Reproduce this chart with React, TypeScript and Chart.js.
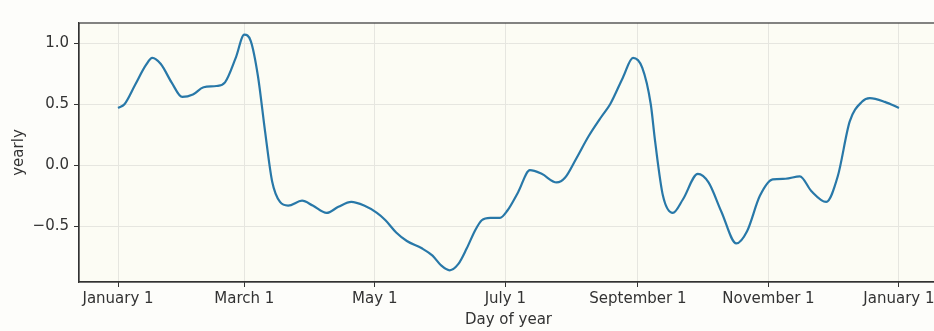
import React, { useEffect, useRef } from "react";
import { Chart, registerables } from "chart.js";

Chart.register(...registerables);

// Day of year (0..365) and yearly seasonality component
const days = [
  0, 3, 8, 13, 16, 20, 25, 30, 35, 40, 46, 50, 55, 59, 62, 65.4, 68.7, 72, 75.7, 79.5, 86,
  91, 97.5, 103, 109, 115, 121, 125, 130, 135, 142, 147, 151, 155, 159, 163, 167, 170, 174,
  178.5, 182, 187, 192.5, 198, 205, 209, 214, 220, 226, 230, 236, 240.7, 245, 249, 251, 254.7,
  259.3, 264, 271, 276, 282, 289, 294, 300, 306, 312, 318.7, 324, 331, 336.4, 342, 347.7,
  351.4, 358.4, 365,
];
const yearly = [
  0.47, 0.5, 0.66, 0.82, 0.88, 0.83, 0.68, 0.56, 0.58, 0.64, 0.65, 0.68, 0.88, 1.07, 1.02,
  0.73, 0.28, -0.13, -0.3, -0.33, -0.29, -0.33, -0.39, -0.34, -0.3, -0.33, -0.39, -0.45,
  -0.55, -0.62, -0.68, -0.74, -0.82, -0.86, -0.81, -0.68, -0.53, -0.45, -0.43, -0.43, -0.37,
  -0.22, -0.04, -0.07, -0.14, -0.1, 0.05, 0.24, 0.4, 0.5, 0.72, 0.88, 0.8, 0.5, 0.2, -0.25,
  -0.39, -0.28, -0.07, -0.14, -0.38, -0.64, -0.54, -0.25, -0.115, -0.11, -0.09, -0.21, -0.3,
  -0.09, 0.36, 0.52, 0.55, 0.52, 0.47,
];
const xTickDays = [0, 59, 120, 181, 243, 304, 365];
const xTickLabels = ["January 1", "March 1", "May 1", "July 1", "September 1", "November 1", "January 1"];
const yTicks = [-0.5, 0.0, 0.5, 1.0];

const FONT = "'DejaVu Sans', sans-serif";

const bgPlugin = {
  id: "bgPlugin",
  beforeDraw(chart: any) {
    const { ctx, chartArea } = chart;
    ctx.save();
    ctx.fillStyle = "#fdfdfa";
    ctx.fillRect(0, 0, chart.width, chart.height);
    ctx.fillStyle = "#fcfcf4";
    ctx.fillRect(chartArea.left, chartArea.top, chartArea.right - chartArea.left, chartArea.bottom - chartArea.top);
    ctx.restore();
  },
  afterDraw(chart: any) {
    const { ctx, chartArea } = chart;
    ctx.save();
    ctx.strokeStyle = "#333333";
    ctx.lineWidth = 1.2;
    ctx.strokeRect(chartArea.left, chartArea.top, chartArea.right - chartArea.left, chartArea.bottom - chartArea.top);
    ctx.restore();
  },
};

export default function App() {
  const ref = useRef<HTMLCanvasElement>(null);
  useEffect(() => {
    if (!ref.current) return;
    const chart = new Chart(ref.current, {
      type: "line",
      data: {
        datasets: [
          {
            data: days.map((d, i) => ({ x: d, y: yearly[i] })),
            borderColor: "#2878a8",
            borderWidth: 2.2,
            pointRadius: 0,
            cubicInterpolationMode: "monotone",
            fill: false,
          },
        ],
      },
      options: {
        animation: false,
        responsive: false,
        maintainAspectRatio: false,
        layout: { padding: { top: 23, right: 12, bottom: 0, left: 0 } },
        plugins: { legend: { display: false }, tooltip: { enabled: false } },
        scales: {
          x: {
            type: "linear",
            min: -18.25,
            max: 383.25,
            afterBuildTicks: (scale: any) => {
              scale.ticks = xTickDays.map((v) => ({ value: v }));
            },
            afterFit: (scale: any) => {
              scale.height = 49;
            },
            ticks: {
              autoSkip: false,
              maxRotation: 0,
              color: "#333333",
              font: { family: FONT, size: 15 },
              padding: 3,
              callback: (v: any) => {
                const i = xTickDays.indexOf(Number(v));
                return i >= 0 ? xTickLabels[i] : "";
              },
            },
            grid: {
              color: "#e6e6e0",
              lineWidth: 1,
              drawTicks: true,
              tickLength: 5,
              tickColor: "#333333",
            },
            border: { display: true, color: "#333333", width: 1.2 },
            title: {
              display: true,
              text: "Day of year",
              color: "#333333",
              font: { family: FONT, size: 15 },
              padding: { top: 0, bottom: 2 },
            },
          },
          y: {
            type: "linear",
            min: -0.956,
            max: 1.166,
            afterBuildTicks: (scale: any) => {
              scale.ticks = yTicks.map((v) => ({ value: v }));
            },
            afterFit: (scale: any) => {
              scale.width = 79;
            },
            ticks: {
              color: "#333333",
              font: { family: FONT, size: 15 },
              padding: 5,
              callback: (v: any) => {
                const n = Number(v);
                const s = n.toFixed(1);
                return n < 0 ? "\u2212" + s.slice(1) : s;
              },
            },
            grid: {
              color: "#e6e6e0",
              lineWidth: 1,
              drawTicks: true,
              tickLength: 5,
              tickColor: "#333333",
            },
            border: { display: true, color: "#333333", width: 1.2 },
            title: {
              display: true,
              text: "yearly",
              color: "#333333",
              font: { family: FONT, size: 15 },
              padding: { top: 10, bottom: 0 },
            },
          },
        },
      },
      plugins: [bgPlugin],
    } as any);
    return () => chart.destroy();
  }, []);
  return (
    <div style={{ position: "fixed", left: 0, top: 0, width: 934, height: 331, overflow: "hidden", background: "#fdfdfa" }}>
      <canvas ref={ref} width={950} height={331} style={{ width: 950, height: 331, display: "block" }} />
    </div>
  );
}
